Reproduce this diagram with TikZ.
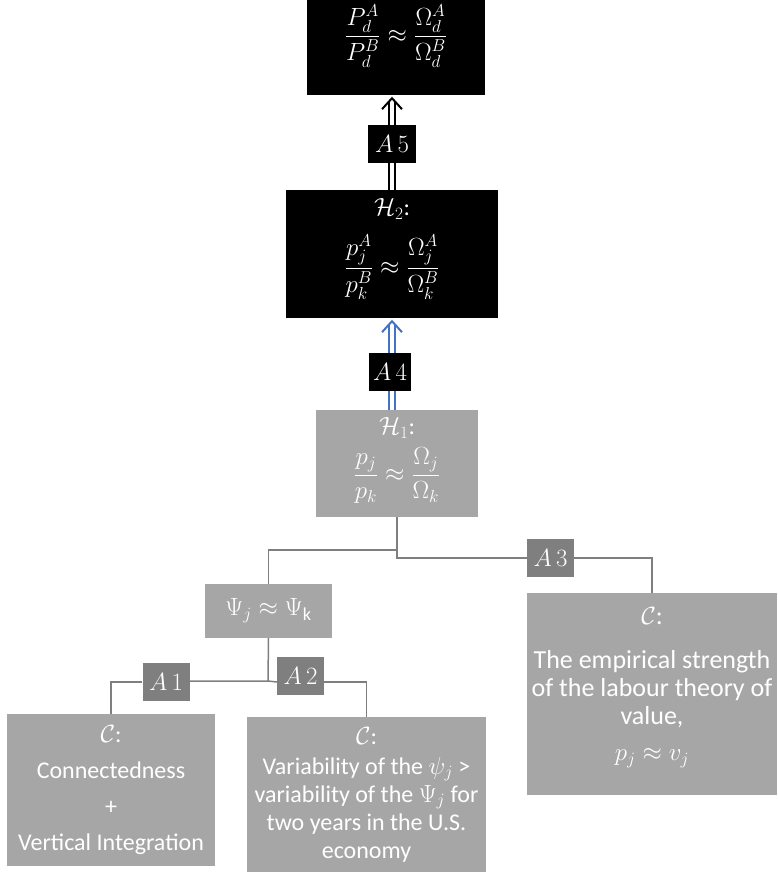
\documentclass[tikz,border=0pt]{standalone}
\usepackage{amsmath}
\usepackage{fontspec}
\setmainfont{Carlito}
\usetikzlibrary{positioning,arrows.meta}

\definecolor{boxgray}{HTML}{A6A6A6}
\definecolor{taggray}{HTML}{7F7F7F}
\definecolor{linkblue}{HTML}{4472C4}

\newcommand{\lift}[2]{\raisebox{#1}[\height][\depth]{#2}}

\tikzset{
  dark/.style={fill=black, text=white, inner sep=0pt, align=center,
    font=\fontsize{24}{28}\selectfont},
  light/.style={dark, fill=boxgray},
  tag/.style={dark, minimum width=47pt, minimum height=38pt,
    font=\fontsize{27}{30}\selectfont},
  graytag/.style={tag, fill=taggray},
  link/.style={draw=taggray, line width=1.5pt},
  dbl/.style={double, double distance=4.5pt, line width=2pt},
  chevron/.style={line width=2pt, line join=miter},
}

\begin{document}
\begin{tikzpicture}[x=1pt, y=-1pt]

    \useasboundingbox (0,0) rectangle (777,873);

    % upper chain
    \node[dark, minimum width=178pt, minimum height=95pt] (pd) at (396,47.5)
        {\raisebox{5pt}[0pt][0pt]{$\dfrac{P_d^A}{P_d^B}\approx\dfrac{\Omega_d^A}{\Omega_d^B}$}};
    \node[tag, minimum width=48pt] (a5) at (392,144) {$A\,5$};
    \node[dark, minimum width=212pt, minimum height=128pt] (h2) at (392,254)
        {\lift{10pt}{$\mathcal{H}_2$:}\\[4pt] $\dfrac{p_j^A}{p_k^B}\approx\dfrac{\Omega_j^A}{\Omega_k^B}$};
    \node[tag, minimum width=42pt] (a4) at (390,372) {$A\,4$};
    \node[light, minimum width=162pt, minimum height=107pt] (h1) at (397,463.5)
        {\lift{6pt}{$\mathcal{H}_1$:}\\[2pt] $\dfrac{p_j}{p_k}\approx\dfrac{\Omega_j}{\Omega_k}$};

    % double arrows
    \coordinate (tip5) at ([yshift=-3pt]a5.north |- pd.south);
    \coordinate (tip4) at ([xshift=2pt, yshift=-3pt]a4.north |- h2.south);
    \draw[dbl] (a5.north) -- ([yshift=-4pt]tip5);
    \draw[chevron] ([shift={(-10pt,-11pt)}]tip5) -- (tip5) -- ([shift={(10pt,-11pt)}]tip5);
    \draw[dbl] (a5.south) -- (a5.south |- h2.north);
    \draw[dbl, draw=linkblue] ([xshift=2pt]a4.north) -- ([yshift=-4pt]tip4);
    \draw[chevron, draw=linkblue] ([shift={(-10pt,-11pt)}]tip4) -- (tip4) -- ([shift={(10pt,-11pt)}]tip4);
    \draw[dbl, draw=linkblue] ([xshift=2pt]a4.south) -- ([xshift=2pt]a4.south |- h1.north);

    % lower tree
    \node[light, minimum width=127pt, minimum height=54pt, font=\fontsize{26}{30}\selectfont]
        (psi) at (268.5,611) {$\Psi_j\approx\Psi_{\mathrm{k}}$};
    \node[graytag] (a3) at (550.5,558) {$A\,3$};
    \node[graytag] (a1) at (166,682) {$A\,1$};
    \node[graytag] (a2) at (300.5,676) {$A\,2$};

    \node[light, minimum width=208pt, minimum height=152pt] (c1) at (111,790)
        {$\mathcal{C}$:\\[8pt] Connectedness\\[8pt] +\\[8pt] Vertical Integration};
    \node[light, minimum width=239pt, minimum height=155pt] (c2) at (366.5,794.5)
        {$\mathcal{C}$:\\[2pt] Variability of the $\psi_j$ >\\ variability of the $\Psi_j$ for\\
         two years in the U.S.\\ economy};
    \node[light, minimum width=250pt, minimum height=202pt, font=\fontsize{26}{28}\selectfont]
        (c3) at (652,694)
        {\lift{12pt}{$\mathcal{C}$:}\\[4pt] The empirical strength\\ of the labour theory of\\ value,\\[8pt]
         $p_j\approx v_j$};

    \coordinate (fork1) at (397,550);
    \coordinate (fork2) at (268,681);

    \draw[link] (h1.south) -- (fork1) -| (psi.north);
    \draw[link] (fork1) |- (a3.west);
    \draw[link] (a3.east) -| (c3.north);
    \draw[link] (psi.south) -- (fork2) -- (a1.east |- fork2);
    \draw[link] (fork2) -- ([yshift=-6pt]a2.west);
    \draw[link] (a1.west) -| (c1.north);
    \draw[link] ([yshift=-6pt]a2.east) -| (c2.north);

\end{tikzpicture}
\end{document}
